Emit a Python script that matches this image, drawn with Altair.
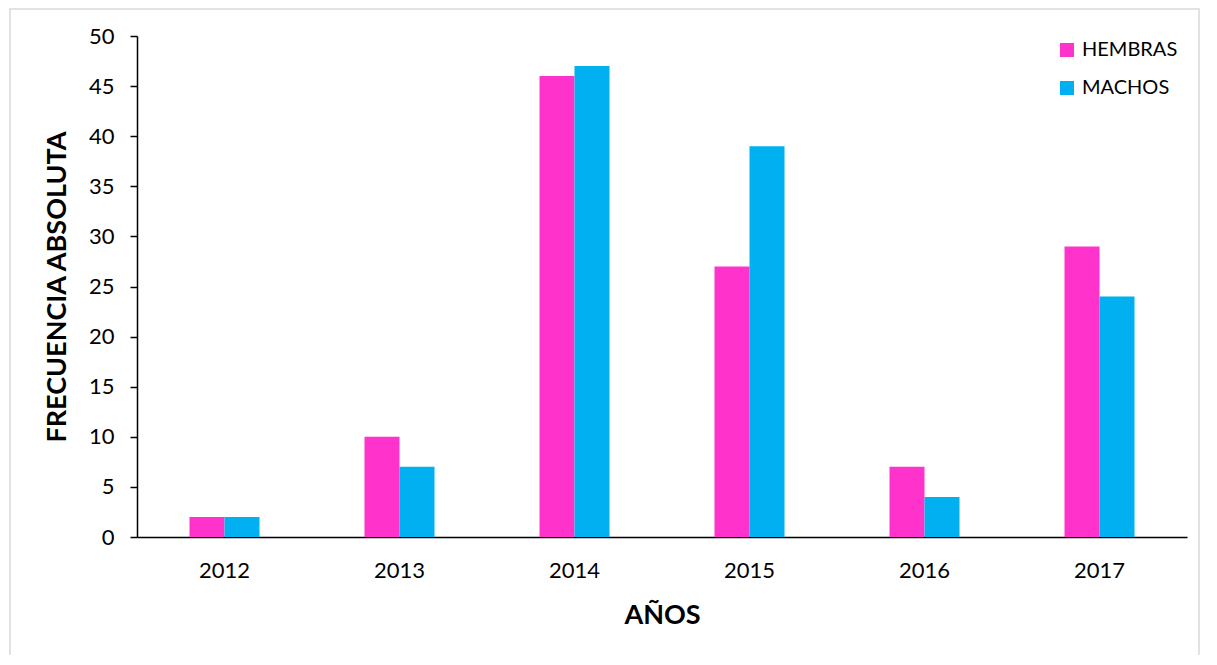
import altair as alt
import pandas as pd

years = ["2012", "2013", "2014", "2015", "2016", "2017"]
hembras = [2, 10, 46, 27, 7, 29]
machos = [2, 7, 47, 39, 4, 24]
series = ["HEMBRAS", "MACHOS"]
colors = ["#FF33CC", "#00B0F0"]
y_ticks = [0, 5, 10, 15, 20, 25, 30, 35, 40, 45, 50]

rows = []
for yr, h, m in zip(years, hembras, machos):
    rows.append({"year": yr, "sexo": "HEMBRAS", "n": h})
    rows.append({"year": yr, "sexo": "MACHOS", "n": m})
df = pd.DataFrame(rows)

FONT = "Lato"

border = alt.Chart(pd.DataFrame({"a": [0]})).mark_rect(
    fillOpacity=0, stroke="#d9d9d9", strokeWidth=1.5
).encode(
    x=alt.value(-127), x2=alt.value(1062), y=alt.value(-27), y2=alt.value(700)
)

bars = alt.Chart(df).mark_bar().encode(
    x=alt.X(
        "year:N",
        title="AÑOS",
        sort=years,
        scale=alt.Scale(paddingInner=0.6, paddingOuter=0.3),
        axis=alt.Axis(
            labelAngle=0, ticks=False, labelPadding=23, titlePadding=21,
            labelFontSize=22, labelFont=FONT, labelColor="#000",
            titleFontSize=27, titleFont=FONT, titleFontWeight="bold", titleColor="#000",
            domainColor="#000", domainWidth=1.5,
        ),
    ),
    xOffset=alt.XOffset("sexo:N", sort=series),
    y=alt.Y(
        "n:Q",
        title="FRECUENCIA ABSOLUTA",
        scale=alt.Scale(domain=[0, 50], nice=False),
        axis=alt.Axis(
            values=y_ticks, grid=False, tickSize=7, tickWidth=1.5, tickColor="#000",
            labelPadding=16, titlePadding=17,
            labelFontSize=22, labelFont=FONT, labelColor="#000",
            titleFontSize=27, titleFont=FONT, titleFontWeight="bold", titleColor="#000",
            domainColor="#000", domainWidth=1.5,
        ),
    ),
    color=alt.Color(
        "sexo:N",
        scale=alt.Scale(domain=series, range=colors),
        legend=alt.Legend(
            title=None, orient="none", legendX=920, legendY=4,
            symbolType="square", symbolSize=196, symbolStrokeWidth=0,
            labelFontSize=20, labelFont=FONT, labelColor="#000",
            labelOffset=5, rowPadding=18,
        ),
    ),
)

chart = alt.layer(border, bars).properties(
    width=1050, height=501,
    autosize=alt.AutoSizeParams(type="none"),
    padding={"left": 129, "top": 28, "right": 20, "bottom": 118},
).configure_view(stroke=None)

chart.save("out.html", embed_options={"renderer": "svg", "actions": False})
